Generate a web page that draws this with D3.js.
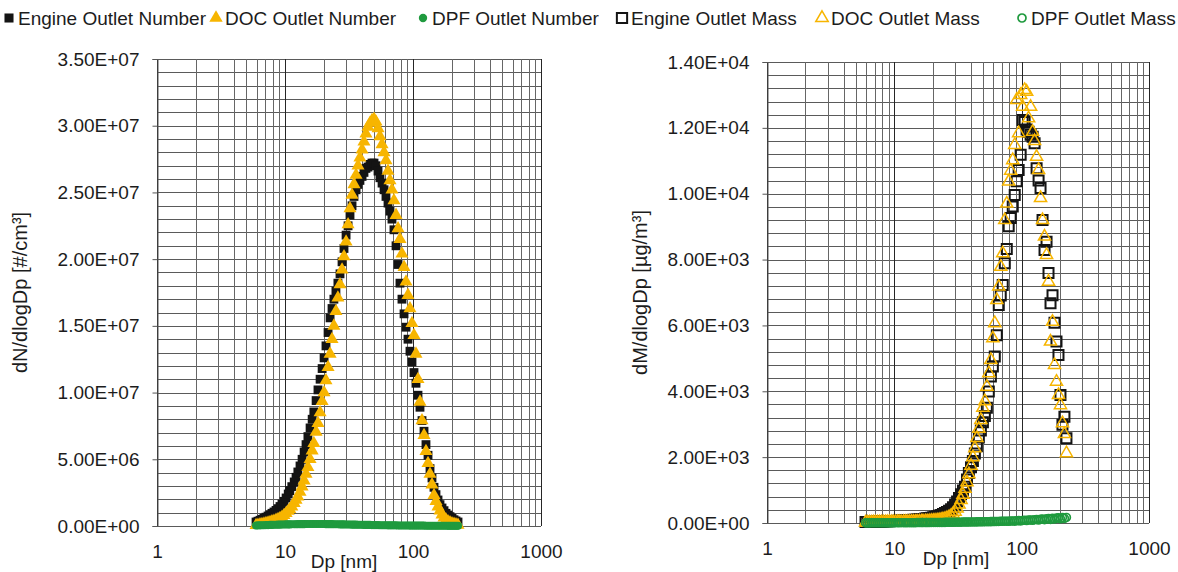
<!DOCTYPE html>
<html>
<head>
<meta charset="utf-8">
<script src="https://cdn.jsdelivr.net/npm/d3@7"></script>
<style>
  body { margin: 0; background: #fff; }
  svg { display: block; }
  text { font-family: "Liberation Sans", Arial, sans-serif; fill: #1c1c1c; }
</style>
</head>
<body>
<svg id="chart" width="1178" height="572"></svg>
<script>
// Mobility diameter channels [nm], 64 per decade
const diameters = [
  5.94, 6.15, 6.38, 6.61, 6.85, 7.10, 7.37, 7.64, 7.91, 8.20,
  8.51, 8.82, 9.14, 9.47, 9.82, 10.2, 10.6, 10.9, 11.3, 11.8,
  12.2, 12.6, 13.1, 13.6, 14.1, 14.6, 15.1, 15.7, 16.3, 16.8,
  17.5, 18.1, 18.8, 19.5, 20.2, 20.9, 21.7, 22.5, 23.3, 24.1,
  25.0, 25.9, 26.9, 27.9, 28.9, 30.0, 31.1, 32.2, 33.4, 34.6,
  35.9, 37.2, 38.5, 40.0, 41.4, 42.9, 44.5, 46.1, 47.8, 49.6,
  51.4, 53.3, 55.2, 57.3, 59.4, 61.5, 63.8, 66.1, 68.5, 71.0,
  73.7, 76.4, 79.1, 82.0, 85.1, 88.2, 91.4, 94.7, 98.2, 101.8,
  105.5, 109.4, 113.4, 117.6, 121.9, 126.3, 131.0, 135.8, 140.7, 145.9,
  151.2, 156.8, 162.5, 168.5, 174.7, 181.1, 187.7, 194.6, 201.7, 209.1,
  216.7, 224.7
];

// Number size distributions, dN/dlogDp in units of 10^6 #/cm3
const NUMBER_UNIT = 1e6;
const engineNumber = [
  0.30, 0.36, 0.43, 0.50, 0.58, 0.66, 0.75, 0.85, 0.95, 1.05,
  1.17, 1.30, 1.46, 1.64, 1.85, 2.10, 2.40, 2.65, 2.95, 3.30,
  3.65, 4.05, 4.50, 5.00, 5.55, 6.10, 6.70, 7.35, 8.00, 8.55,
  9.40, 10.2, 11.0, 11.8, 12.6, 13.5, 14.5, 15.6, 16.3, 17.0,
  17.6, 18.2, 18.9, 19.8, 20.8, 21.8, 22.5, 23.3, 24.0, 24.7,
  25.2, 25.6, 25.9, 26.2, 26.5, 26.8, 26.9, 27.1, 27.2, 27.2,
  27.0, 26.6, 26.1, 25.7, 25.2, 24.7, 24.2, 23.6, 23.0, 22.2,
  21.0, 19.6, 18.2, 17.0, 15.9, 14.9, 14.0, 13.1, 12.3, 11.5,
  10.7, 9.8, 8.9, 7.9, 7.1, 6.1, 5.3, 4.3, 3.6, 2.9,
  2.35, 1.95, 1.60, 1.35, 1.15, 0.95, 0.82, 0.70, 0.58, 0.47,
  0.38, 0.30
];
const docNumber = [
  0.05, 0.07, 0.10, 0.13, 0.16, 0.20, 0.24, 0.28, 0.33, 0.38,
  0.44, 0.50, 0.58, 0.68, 0.80, 0.95, 1.12, 1.25, 1.45, 1.70,
  1.95, 2.20, 2.55, 2.95, 3.40, 3.90, 4.40, 5.00, 5.65, 6.20,
  7.05, 7.70, 8.50, 9.35, 10.0, 10.9, 11.9, 12.9, 14.0, 15.0,
  16.1, 17.1, 18.1, 19.2, 20.2, 21.3, 22.6, 23.8, 24.8, 25.6,
  26.3, 27.0, 27.6, 28.2, 28.8, 29.4, 29.9, 30.2, 30.4, 30.5,
  30.3, 29.8, 29.2, 28.6, 28.0, 27.4, 26.6, 25.9, 25.2, 24.4,
  23.3, 22.3, 21.5, 20.4, 19.4, 18.3, 17.3, 16.3, 15.2, 14.3,
  12.9, 11.0, 9.3, 7.9, 6.8, 5.6, 4.7, 3.9, 3.1, 2.3,
  1.85, 1.45, 1.15, 0.85, 0.62, 0.46, 0.34, 0.26, 0.19, 0.14,
  0.10, 0.07
];
const dpfNumber = [
  0.04, 0.05, 0.05, 0.06, 0.06, 0.07, 0.07, 0.08, 0.08, 0.09,
  0.09, 0.10, 0.10, 0.11, 0.11, 0.12, 0.12, 0.12, 0.13, 0.13,
  0.13, 0.14, 0.14, 0.14, 0.14, 0.15, 0.15, 0.15, 0.15, 0.15,
  0.15, 0.15, 0.15, 0.15, 0.15, 0.14, 0.14, 0.14, 0.14, 0.13,
  0.13, 0.13, 0.12, 0.12, 0.12, 0.11, 0.11, 0.11, 0.10, 0.10,
  0.10, 0.09, 0.09, 0.09, 0.08, 0.08, 0.08, 0.08, 0.07, 0.07,
  0.07, 0.07, 0.06, 0.06, 0.06, 0.06, 0.05, 0.05, 0.05, 0.05,
  0.05, 0.04, 0.04, 0.04, 0.04, 0.04, 0.04, 0.03, 0.03, 0.03,
  0.03, 0.03, 0.03, 0.03, 0.03, 0.02, 0.02, 0.02, 0.02, 0.02,
  0.02, 0.02, 0.02, 0.02, 0.02, 0.02, 0.01, 0.01, 0.01, 0.01,
  0.01, 0.01
];

// Mass size distributions, dM/dlogDp in ug/m3
const engineMass = [
  30, 32, 34, 36, 38, 40, 42, 44, 46, 48,
  50, 52, 55, 58, 61, 64, 67, 70, 73, 76,
  80, 84, 88, 92, 96, 101, 106, 112, 118, 125,
  133, 142, 152, 163, 176, 190, 206, 224, 245, 270,
  300, 335, 375, 420, 480, 560, 650, 760, 870, 990,
  1100, 1320, 1520, 1690, 1880, 2110, 2330, 2600, 2810, 3060,
  3250, 3500, 3990, 4450, 4750, 5060, 5700, 6620, 6910, 7230,
  7890, 8320, 9010, 9260, 9610, 9960, 10380, 10720, 11180, 12240,
  12180, 11950, 11880, 11790, 11730, 11530, 10770, 10400, 10170, 9200,
  8290, 8540, 7590, 6670, 6920, 6080, 5510, 5100, 3890, 2980,
  3230, 2570
];
const docMass = [
  15, 16, 17, 18, 19, 20, 21, 22, 23, 24,
  25, 26, 27, 28, 29, 30, 31, 32, 33, 34,
  35, 36, 37, 38, 39, 41, 43, 45, 47, 50,
  53, 56, 60, 64, 69, 75, 82, 90, 100, 112,
  128, 150, 180, 220, 275, 345, 440, 560, 700, 860,
  1040, 1240, 1480, 1740, 2000, 2270, 2580, 2860, 3130, 3500,
  3700, 4140, 4550, 4950, 5610, 6070, 6770, 7180, 7780, 8190,
  9200, 9700, 10370, 10700, 11020, 11480, 12850, 11840, 13000, 12640,
  13150, 13100, 12290, 12640, 11880, 11600, 11120, 10720, 9870, 9200,
  8700, 8140, 7330, 5510, 6110, 4800, 4290, 3890, 3580, 3030,
  2700, 2120
];
const dpfMass = [
  4, 4, 4, 5, 5, 5, 5, 6, 6, 6,
  6, 7, 7, 7, 7, 8, 8, 8, 9, 9,
  9, 10, 10, 10, 11, 11, 12, 12, 12, 13,
  13, 14, 14, 15, 15, 16, 16, 17, 18, 18,
  19, 20, 20, 21, 22, 23, 24, 25, 26, 27,
  28, 29, 30, 31, 32, 33, 34, 35, 36, 37,
  38, 39, 40, 42, 43, 45, 46, 48, 50, 52,
  54, 56, 52, 60, 63, 57, 68, 72, 64, 78,
  82, 74, 88, 94, 82, 100, 106, 90, 112, 118,
  100, 126, 134, 110, 142, 120, 150, 158, 128, 165,
  140, 170
];

// Axis ticks and labels
const xTickValues = [1, 10, 100, 1000];
const xTickLabels = ["1", "10", "100", "1000"];
const numberTicks = [0, 5e6, 1e7, 1.5e7, 2e7, 2.5e7, 3e7, 3.5e7];
const massTicks = [0, 2000, 4000, 6000, 8000, 10000, 12000, 14000];
const numberLegend = ["Engine Outlet Number", "DOC Outlet Number", "DPF Outlet Number"];
const massLegend = ["Engine Outlet Mass", "DOC Outlet Mass", "DPF Outlet Mass"];

const BLACK = "#141414", GOLD = "#f7b500", GREEN = "#1f9a3e";

// "3.50E+07" style labels
function sciLabel(v) {
  const [m, e] = v.toExponential(2).split("e");
  return m + "E" + e[0] + String(Math.abs(+e)).padStart(2, "0");
}

const svg = d3.select("#chart");
svg.append("rect").attr("width", 1178).attr("height", 572).attr("fill", "#fff");

const panels = [
  {
    left: 157, right: 541, top: 59, bottom: 526,
    yMax: 3.5e7, yStep: 1e6, ticks: numberTicks, unit: NUMBER_UNIT,
    title: "dN/dlogDp  [#/cm\u00b3]", titleX: 20, xTitleX: 344,
    legendY: 18, legendStart: 9, legendSlot: 207, labels: numberLegend,
    series: [
      { values: engineNumber, type: d3.symbolSquare, size: 78, fill: BLACK, stroke: "none", sw: 0 },
      { values: docNumber, type: d3.symbolTriangle, size: 74, fill: GOLD, stroke: "none", sw: 0 },
      { values: dpfNumber, type: d3.symbolCircle, size: 52, fill: GREEN, stroke: "none", sw: 0 }
    ]
  },
  {
    left: 767, right: 1149, top: 62, bottom: 523,
    yMax: 14000, yStep: 400, ticks: massTicks, unit: 1,
    title: "dM/dlogDp  [\u00b5g/m\u00b3]", titleX: 640, xTitleX: 956,
    legendY: 18, legendStart: 622, legendSlot: 200, labels: massLegend,
    series: [
      { values: engineMass, type: d3.symbolSquare, size: 100, fill: "none", stroke: BLACK, sw: 2 },
      { values: docMass, type: d3.symbolTriangle, size: 64, fill: "none", stroke: GOLD, sw: 1.5 },
      { values: dpfMass, type: d3.symbolCircle, size: 48, fill: "none", stroke: GREEN, sw: 1.7 }
    ]
  }
];

panels.forEach(p => {
  const x = d3.scaleLog().domain([1, 1000]).range([p.left, p.right]);
  const y = d3.scaleLinear().domain([0, p.yMax]).range([p.bottom, p.top]);
  const g = svg.append("g");

  // horizontal grid
  const hLines = d3.range(0, p.yMax + p.yStep / 2, p.yStep);
  g.append("g").selectAll("line").data(hLines).join("line")
    .attr("x1", p.left).attr("x2", p.right)
    .attr("y1", d => Math.round(y(d)) + 0.5).attr("y2", d => Math.round(y(d)) + 0.5)
    .attr("stroke", "#5a5a5a").attr("stroke-width", 1);

  // vertical log grid
  const vLines = [];
  [1, 10, 100].forEach(dec => d3.range(1, 10).forEach(k => vLines.push(dec * k)));
  vLines.push(1000);
  g.append("g").selectAll("line").data(vLines).join("line")
    .attr("x1", d => Math.round(x(d)) + 0.5).attr("x2", d => Math.round(x(d)) + 0.5)
    .attr("y1", p.top).attr("y2", p.bottom)
    .attr("stroke", d => xTickValues.includes(d) ? "#262626" : "#666")
    .attr("stroke-width", 1);

  // y axis
  const yAxis = d3.axisLeft(y).tickValues(p.ticks).tickFormat(sciLabel).tickSize(5).tickPadding(13);
  const ya = g.append("g").attr("transform", `translate(${p.left + 0.5},0)`).call(yAxis);
  ya.select(".domain").attr("stroke", "#555");
  ya.selectAll(".tick line").attr("stroke", "#555");
  ya.selectAll("text").attr("font-size", 19).attr("fill", "#1c1c1c")
    .attr("font-family", "Liberation Sans, Arial, sans-serif");

  // x axis labels
  const xa = d3.axisBottom(x).tickValues(xTickValues)
    .tickFormat((d, i) => xTickLabels[i]).tickSize(0).tickPadding(19);
  const xg = g.append("g").attr("transform", `translate(0,${p.bottom})`).call(xa);
  xg.select(".domain").remove();
  xg.selectAll("text").attr("font-size", 19).attr("fill", "#1c1c1c")
    .attr("font-family", "Liberation Sans, Arial, sans-serif");

  // axis titles
  g.append("text").attr("x", p.xTitleX).attr("y", p.bottom + 42)
    .attr("text-anchor", "middle").attr("font-size", 19).text("Dp [nm]");
  g.append("text")
    .attr("transform", `translate(${p.titleX},${(p.top + p.bottom) / 2}) rotate(-90)`)
    .attr("text-anchor", "middle").attr("dy", "0.35em").attr("font-size", 20)
    .text(p.title);

  // markers
  p.series.forEach(s => {
    const sym = d3.symbol().type(s.type).size(s.size)();
    g.append("g").selectAll("path").data(s.values).join("path")
      .attr("d", sym)
      .attr("transform", (v, i) => `translate(${x(diameters[i])},${y(v * p.unit)})`)
      .attr("fill", s.fill).attr("stroke", s.stroke).attr("stroke-width", s.sw);
  });

  // legend: equal-width slots, symbol then label
  p.labels.forEach((label, i) => {
    const s = p.series[i];
    const sx = p.legendStart + i * p.legendSlot;
    svg.append("path")
      .attr("d", d3.symbol().type(s.type).size(s.size * 1.05)())
      .attr("transform", `translate(${sx},${p.legendY})`)
      .attr("fill", s.fill).attr("stroke", s.stroke).attr("stroke-width", s.sw);
    svg.append("text").attr("x", sx + 9).attr("y", p.legendY)
      .attr("dy", "0.36em").attr("font-size", 19).text(label);
  });
});
</script>
</body>
</html>
